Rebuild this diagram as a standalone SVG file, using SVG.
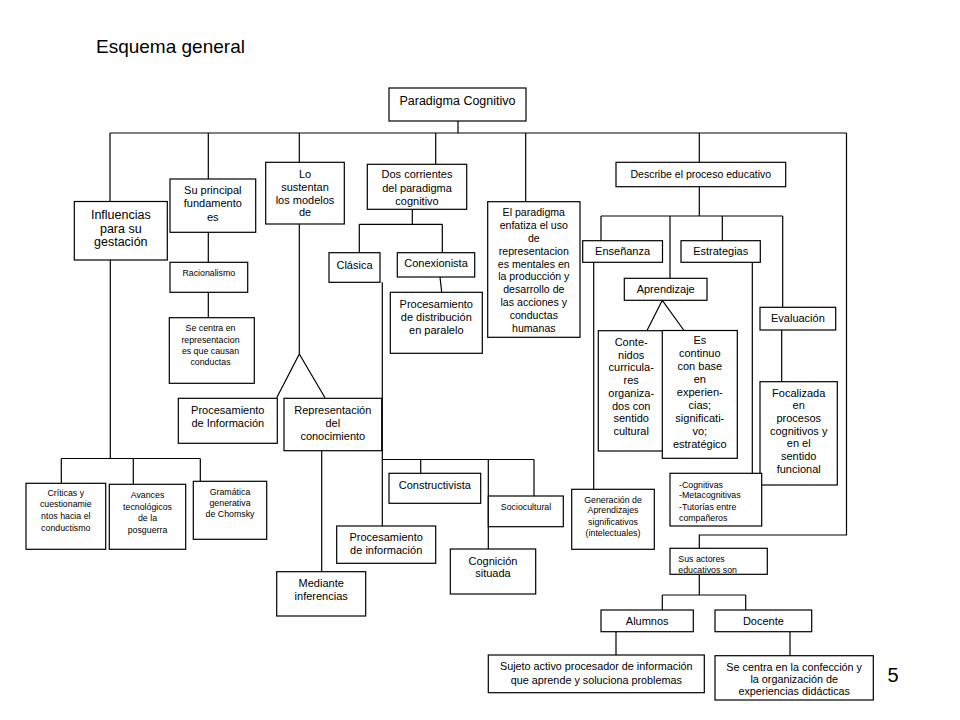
<svg xmlns="http://www.w3.org/2000/svg" width="960" height="720" viewBox="0 0 960 720">
<style>
.bg{fill:#fff}
.box{fill:#fff;stroke:#000;stroke-width:1.2}
.ln{fill:none;stroke:#000;stroke-width:1.2}
text{font-family:"Liberation Sans",Arial,sans-serif;fill:#000;text-anchor:middle}
.m{font-size:11px}
.s{font-size:8.8px}
.l{text-anchor:start}
</style>
<rect class="bg" x="0" y="0" width="960" height="720"/>
<text x="96" y="53" style="font-size:19px;text-anchor:start">Esquema general</text>
<text x="893" y="682" style="font-size:20px">5</text>

<g id="connectors">
<!-- root -->
<path class="ln" d="M458 121 V133 M110 133 H846.5 M846.5 133 V535 H699.3 V548.3"/>
<path class="ln" d="M110 133 V201.7 M208.3 133 V179 M299.3 133 V162.3 M435.7 133 V164.3 M525.7 133 V201.7 M699.3 133 V162.3"/>
<!-- influencias -->
<path class="ln" d="M110.3 260 V458.5 M61.3 458.5 H200.3 M61.3 458.5 V483.3 M133.3 458.5 V484.3 M200.3 458.5 V481.3"/>
<!-- su principal -->
<path class="ln" d="M208.3 232.3 V262.3 M208.3 292.3 V317.7"/>
<!-- lo sustentan -->
<path class="ln" d="M299.3 224 V354 L276.7 397.7 M299.3 354 L325 397.7 M321.7 450.7 V571.7"/>
<!-- dos corrientes -->
<path class="ln" d="M412.3 209.3 V224.3 M359.3 224.3 H442.3 M359.3 224.3 V252.7 M442.3 224.3 V252.7 M440 277 L441.7 292.3"/>
<path class="ln" d="M382.3 282.3 V526 M382.3 459.5 H534 M420.7 459.5 V473.3 M488.3 459.5 V549 M534 459.5 V496"/>
<!-- describe -->
<path class="ln" d="M699.3 186.7 V216 M601 216 H782.7 M601 216 V240.7 M670 216 V278.3 M722.3 216 V240.7 M782.7 216 V307.3"/>
<path class="ln" d="M662.3 300.3 L647 330.5 M662.3 300.3 L684 330.5"/>
<path class="ln" d="M593.7 262.3 V489.3 M752.3 262.3 V473.3 M781.7 330 V381.7"/>
<!-- actores -->
<path class="ln" d="M699.3 574.3 V595 M662.3 595 H745.7 M662.3 595 V610 M745.7 595 V610 M616 631.7 V655 M790 631.7 V655.7"/>
</g>

<g id="paradigma"><rect class="box" x="389" y="88" width="137" height="33"/><text x="457.5" y="105" style="font-size:12.5px">Paradigma Cognitivo</text></g>

<g id="influencias"><rect class="box" x="74.3" y="201.5" width="93" height="58.5"/><text style="font-size:12.5px"><tspan x="120.8" y="219">Influencias</tspan><tspan x="120.8" y="232.5">para su</tspan><tspan x="120.8" y="246">gestación</tspan></text></g>

<g id="su-principal"><rect class="box" x="170" y="179" width="85.7" height="53.3"/><text class="m"><tspan x="212.8" y="193.5">Su principal</tspan><tspan x="212.8" y="207">fundamento</tspan><tspan x="212.8" y="220.5">es</tspan></text></g>

<g id="racionalismo"><rect class="box" x="170" y="262.3" width="77.7" height="30"/><text class="s" x="208.8" y="275.5">Racionalismo</text></g>

<g id="se-centra"><rect class="box" x="169.3" y="317.7" width="85" height="65.6"/><text class="s"><tspan x="210.5" y="330.5">Se centra en</tspan><tspan x="210.5" y="342.5">representacion</tspan><tspan x="210.5" y="353.5">es que causan</tspan><tspan x="210.5" y="364.5">conductas</tspan></text></g>

<g id="lo-sustentan"><rect class="box" x="265.7" y="162.3" width="78.6" height="61.7"/><text class="m"><tspan x="305" y="178">Lo</tspan><tspan x="305" y="191">sustentan</tspan><tspan x="305" y="203.5">los modelos</tspan><tspan x="305" y="216">de</tspan></text></g>

<g id="dos-corrientes"><rect class="box" x="367.3" y="164.3" width="99.4" height="45"/><text class="m"><tspan x="417" y="178">Dos corrientes</tspan><tspan x="417" y="191.5">del paradigma</tspan><tspan x="417" y="204.5">cognitivo</tspan></text></g>

<g id="el-paradigma"><rect class="box" x="487.7" y="201.7" width="92.3" height="135.6"/><text style="font-size:10.6px"><tspan x="533.8" y="216.3">El paradigma</tspan><tspan x="533.8" y="229.1">enfatiza el uso</tspan><tspan x="533.8" y="241.9">de</tspan><tspan x="533.8" y="254.7">representacion</tspan><tspan x="533.8" y="267.5">es mentales en</tspan><tspan x="533.8" y="280.3">la producción y</tspan><tspan x="533.8" y="293.1">desarrollo de</tspan><tspan x="533.8" y="305.9">las acciones y</tspan><tspan x="533.8" y="318.7">conductas</tspan><tspan x="533.8" y="331.5">humanas</tspan></text></g>

<g id="describe"><rect class="box" x="616" y="162.3" width="169.7" height="24.4"/><text x="700.8" y="178" style="font-size:10.5px">Describe el proceso educativo</text></g>

<g id="clasica"><rect class="box" x="329" y="252.7" width="51" height="29.6"/><text class="m" x="354.5" y="269">Clásica</text></g>

<g id="conexionista"><rect class="box" x="397.3" y="252.7" width="77.4" height="24.3"/><text class="m" x="436" y="267">Conexionista</text></g>

<g id="proc-distribucion"><rect class="box" x="390.3" y="292.3" width="92" height="61"/><text class="m"><tspan x="436.3" y="307.5">Procesamiento</tspan><tspan x="436.3" y="320.8">de distribución</tspan><tspan x="436.3" y="334">en paralelo</tspan></text></g>

<g id="proc-informacion-1"><rect class="box" x="178.3" y="398.3" width="99" height="45"/><text class="m"><tspan x="227.8" y="413.5">Procesamiento</tspan><tspan x="227.8" y="427">de Información</tspan></text></g>

<g id="representacion"><rect class="box" x="284" y="398.3" width="97.7" height="52.4"/><text class="m"><tspan x="332.8" y="413.5">Representación</tspan><tspan x="332.8" y="427">del</tspan><tspan x="332.8" y="439.5">conocimiento</tspan></text></g>

<g id="criticas"><rect class="box" x="26" y="483.3" width="79.7" height="66"/><text class="s"><tspan x="65.8" y="496">Críticas y</tspan><tspan x="65.8" y="507">cuestionamie</tspan><tspan x="65.8" y="518.5">ntos hacia el</tspan><tspan x="65.8" y="530.5">conductismo</tspan></text></g>

<g id="avances"><rect class="box" x="109.3" y="484.3" width="76.4" height="65"/><text class="s"><tspan x="147.5" y="498">Avances</tspan><tspan x="147.5" y="509.5">tecnológicos</tspan><tspan x="147.5" y="521">de la</tspan><tspan x="147.5" y="532.5">posguerra</tspan></text></g>

<g id="gramatica"><rect class="box" x="193.3" y="481.3" width="73.4" height="58"/><text class="s"><tspan x="230" y="495">Gramática</tspan><tspan x="230" y="506">generativa</tspan><tspan x="230" y="517">de Chomsky</tspan></text></g>

<g id="mediante"><rect class="box" x="276.7" y="571.7" width="89" height="44.3"/><text class="m"><tspan x="321.2" y="586.5">Mediante</tspan><tspan x="321.2" y="600">inferencias</tspan></text></g>

<g id="proc-informacion-2"><rect class="box" x="336.7" y="526" width="99" height="37.3"/><text class="m"><tspan x="386.2" y="541">Procesamiento</tspan><tspan x="386.2" y="554">de información</tspan></text></g>

<g id="constructivista"><rect class="box" x="389" y="473.3" width="91.7" height="30"/><text class="m" x="434.8" y="489">Constructivista</text></g>

<g id="sociocultural"><rect class="box" x="488.3" y="496" width="75" height="30.7"/><text class="s" x="526" y="509.5">Sociocultural</text></g>

<g id="cognicion"><rect class="box" x="450.3" y="549" width="85.4" height="45"/><text class="m"><tspan x="493" y="564.5">Cognición</tspan><tspan x="493" y="577">situada</tspan></text></g>

<g id="ensenanza"><rect class="box" x="582.7" y="240.7" width="79.8" height="21.6"/><text class="m" x="622.6" y="254.5">Enseñanza</text></g>

<g id="estrategias"><rect class="box" x="681" y="240.7" width="79.3" height="21.6"/><text class="m" x="720.7" y="254.5">Estrategias</text></g>

<g id="aprendizaje"><rect class="box" x="624.3" y="278.3" width="82.7" height="22"/><text class="m" x="665.7" y="292.5">Aprendizaje</text></g>

<g id="evaluacion"><rect class="box" x="760" y="307.3" width="75.7" height="22.7"/><text class="m" x="797.9" y="322">Evaluación</text></g>

<g id="contenidos"><rect class="box" x="598.3" y="330.7" width="65.7" height="120.3"/><text class="m"><tspan x="631.2" y="345.7">Conte-</tspan><tspan x="631.2" y="358.5">nidos</tspan><tspan x="631.2" y="371.2">curricula-</tspan><tspan x="631.2" y="384">res</tspan><tspan x="631.2" y="396.7">organiza-</tspan><tspan x="631.2" y="409.5">dos con</tspan><tspan x="631.2" y="422.2">sentido</tspan><tspan x="631.2" y="435">cultural</tspan></text></g>

<g id="es-continuo"><rect class="box" x="662.3" y="330.5" width="75" height="127.8"/><text class="m"><tspan x="699.8" y="344">Es</tspan><tspan x="699.8" y="357">continuo</tspan><tspan x="699.8" y="370">con base</tspan><tspan x="699.8" y="383">en</tspan><tspan x="699.8" y="396">experien-</tspan><tspan x="699.8" y="409">cias;</tspan><tspan x="699.8" y="422">significati-</tspan><tspan x="699.8" y="435">vo;</tspan><tspan x="699.8" y="448">estratégico</tspan></text></g>

<g id="focalizada"><rect class="box" x="760" y="381.7" width="77.3" height="103.3"/><text class="m"><tspan x="798.7" y="396.7">Focalizada</tspan><tspan x="798.7" y="409.4">en</tspan><tspan x="798.7" y="422">procesos</tspan><tspan x="798.7" y="434.7">cognitivos y</tspan><tspan x="798.7" y="447.4">en el</tspan><tspan x="798.7" y="460">sentido</tspan><tspan x="798.7" y="472.7">funcional</tspan></text></g>

<g id="generacion"><rect class="box" x="571.7" y="489.3" width="82.6" height="60"/><text class="s"><tspan x="613" y="502.5">Generación de</tspan><tspan x="613" y="513">Aprendizajes</tspan><tspan x="613" y="524.5">significativos</tspan><tspan x="613" y="536">(intelectuales)</tspan></text></g>

<g id="cognitivas"><rect class="box" x="670" y="473.3" width="91.7" height="52.7"/><text class="s l"><tspan x="679" y="487.5">-Cognitivas</tspan><tspan x="679" y="498">-Metacognitivas</tspan><tspan x="679" y="509.5">-Tutorías entre</tspan><tspan x="679" y="520.5">compañeros</tspan></text></g>

<g id="sus-actores"><rect class="box" x="670" y="548.3" width="97.3" height="26"/><text class="s l"><tspan x="678.3" y="562">Sus actores</tspan><tspan x="678.3" y="573">educativos son</tspan></text></g>

<g id="alumnos"><rect class="box" x="601" y="610" width="92.3" height="21.7"/><text class="m" x="647.2" y="624.5">Alumnos</text></g>

<g id="docente"><rect class="box" x="715" y="610" width="96.7" height="21.7"/><text class="m" x="763.4" y="624.5">Docente</text></g>

<g id="sujeto"><rect class="box" x="488.3" y="655" width="216" height="37.7"/><text style="font-size:10.8px"><tspan x="596.3" y="669.5">Sujeto activo procesador de información</tspan><tspan x="596.3" y="684">que aprende y soluciona problemas</tspan></text></g>

<g id="docente-centra"><rect class="box" x="715" y="655.7" width="158.3" height="44.3"/><text style="font-size:10.8px"><tspan x="794.2" y="670.5">Se centra en la confección y</tspan><tspan x="794.2" y="683">la organización de</tspan><tspan x="794.2" y="695">experiencias didácticas</tspan></text></g>
</svg>
